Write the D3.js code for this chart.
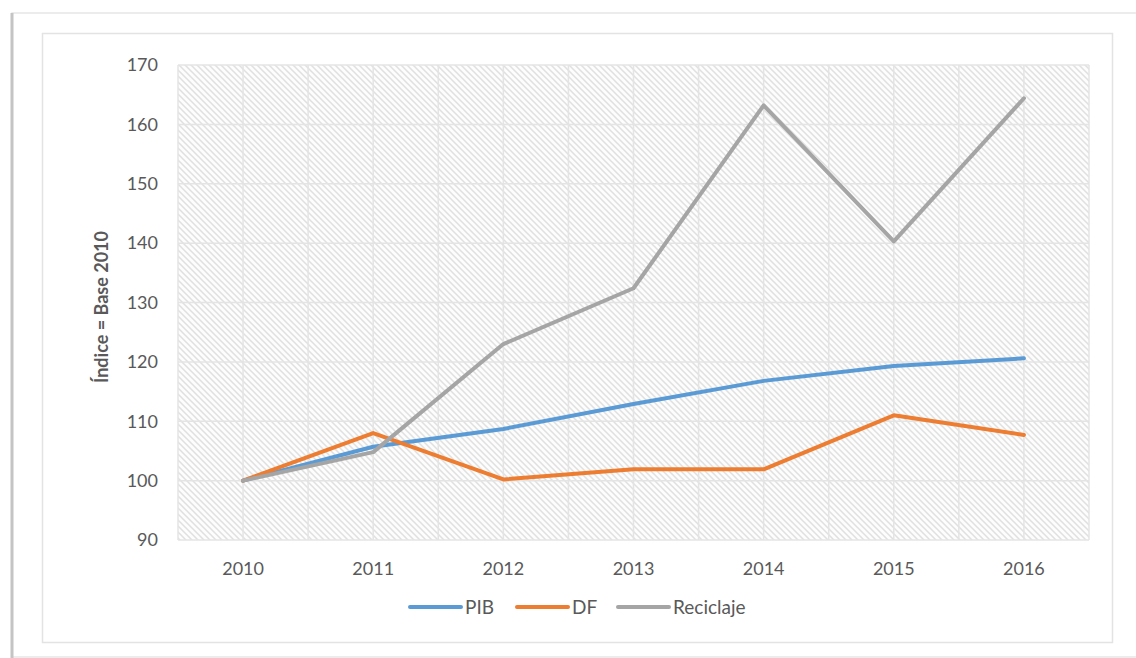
<!DOCTYPE html>
<html><head><meta charset="utf-8">
<script src="https://cdn.jsdelivr.net/npm/d3@7"></script>
<style>body{margin:0;background:#fff}svg{display:block}text{font-family:Lato,"Open Sans",sans-serif}</style>
</head><body><svg id="c" width="1136" height="658"></svg>
<script>
const years = ["2010","2011","2012","2013","2014","2015","2016"];
const pib = [100, 105.7, 108.7, 112.9, 116.8, 119.3, 120.6];
const df = [100, 108.0, 100.2, 101.9, 101.9, 111.0, 107.7];
const reciclaje = [100, 104.8, 123.0, 132.4, 163.2, 140.3, 164.4];
const yTicks = [90,100,110,120,130,140,150,160,170];
const seriesNames = ["PIB","DF","Reciclaje"];
const seriesColors = ["#5b9bd5","#ed7d31","#a5a5a5"];
const seriesData = [pib, df, reciclaje];

const svg = d3.select("#c");
// outer frame
svg.append("rect").attr("x",12).attr("y",13).attr("width",1140).attr("height",644)
  .attr("fill","#fff").attr("stroke","#e6e6e6").attr("stroke-width",1.5);
svg.append("line").attr("x1",12).attr("x2",12).attr("y1",13).attr("y2",658).attr("stroke","#c4c4c4").attr("stroke-width",3);
// inner chart border
svg.append("rect").attr("x",42.5).attr("y",33.5).attr("width",1070).attr("height",609)
  .attr("fill","#fff").attr("stroke","#e3e3e3").attr("stroke-width",1.5);

const L=178, R=1089, T=65, B=540;
const x = d3.scaleBand().domain(years).range([L,R]);
const y = d3.scaleLinear().domain([90,170]).range([B,T]);

const defs = svg.append("defs");
const pat = defs.append("pattern").attr("id","hatch").attr("patternUnits","userSpaceOnUse")
  .attr("width",6).attr("height",6);
pat.append("rect").attr("width",6).attr("height",6).attr("fill","#fdfdfd");
pat.append("path").attr("d","M-1,-1 L7,7 M-4,2 L2,8 M2,-4 L8,2").attr("stroke","#e0e0e0").attr("stroke-width",1.5);

svg.append("rect").attr("x",L).attr("y",T).attr("width",R-L).attr("height",B-T).attr("fill","url(#hatch)");

// gridlines
const g = svg.append("g");
g.selectAll("line.h").data(yTicks).join("line")
  .attr("x1",L).attr("x2",R).attr("y1",d=>y(d)).attr("y2",d=>y(d))
  .attr("stroke","#e4e4e4").attr("stroke-width",1.5);
const vpos = [];
years.forEach((yr,i)=>{ vpos.push(x(yr)); vpos.push(x(yr)+x.bandwidth()/2); });
vpos.push(R);
g.selectAll("line.v").data(vpos).join("line")
  .attr("x1",d=>d).attr("x2",d=>d).attr("y1",T).attr("y2",B)
  .attr("stroke","#e4e4e4").attr("stroke-width",1.5);

// axes
const yAxis = svg.append("g").attr("transform",`translate(${L},0)`)
  .call(d3.axisLeft(y).tickValues(yTicks).tickSize(0).tickPadding(20));
yAxis.select(".domain").remove();
yAxis.selectAll("text").attr("font-size",18).attr("fill","#595959");

const xAxis = svg.append("g").attr("transform",`translate(0,${B})`)
  .call(d3.axisBottom(x).tickSize(0).tickPadding(22));
xAxis.select(".domain").remove();
xAxis.selectAll("text").attr("font-size",18).attr("fill","#595959");

svg.append("text").attr("transform","translate(108,307) rotate(-90)")
  .attr("text-anchor","middle").attr("font-size",18).attr("font-weight","bold").attr("fill","#595959")
  .text("Índice = Base 2010");

// lines
const line = d3.line().x((d,i)=>x(years[i])+x.bandwidth()/2).y(d=>y(d));
seriesData.forEach((s,k)=>{
  svg.append("path").datum(s).attr("d",line).attr("fill","none")
    .attr("stroke",seriesColors[k]).attr("stroke-width",4).attr("stroke-linejoin","round").attr("stroke-linecap","round");
});

// legend
const legX = [410,517,618];
const lg = svg.append("g");
seriesNames.forEach((n,k)=>{
  lg.append("line").attr("x1",legX[k]).attr("x2",legX[k]+51).attr("y1",607).attr("y2",607)
    .attr("stroke",seriesColors[k]).attr("stroke-width",4).attr("stroke-linecap","round");
  lg.append("text").attr("x",legX[k]+55).attr("y",607).attr("dy","0.35em")
    .attr("font-size",19).attr("fill","#595959").text(n);
});
</script></body></html>
